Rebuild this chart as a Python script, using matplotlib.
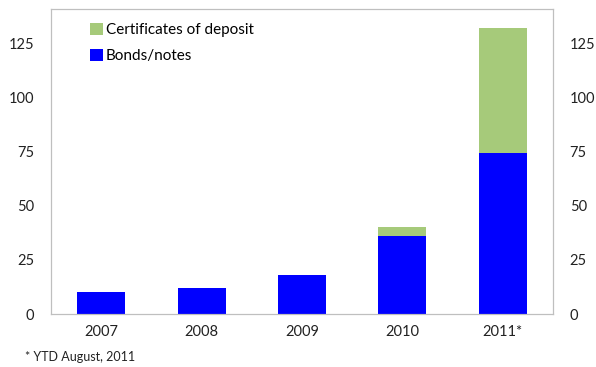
import matplotlib.pyplot as plt
import numpy as np

years = ['2007', '2008', '2009', '2010', '2011*']
bonds = [10, 12, 18, 36, 74.5]
deposits = [0, 0, 0, 4.3, 57.5]
yticks = [0, 25, 50, 75, 100, 125]

plt.rcParams['font.family'] = ['Lato', 'DejaVu Sans']

fig = plt.figure(figsize=(5.96, 3.67), dpi=100)
ax = fig.add_axes([51/596, 1 - 314/367, 502/596, 305/367])
x = np.arange(len(years))
ax.bar(x, bonds, width=0.48, color='#0000FF', label='Bonds/notes', zorder=2)
ax.bar(x, deposits, width=0.48, bottom=bonds, color='#A6CA7A', label='Certificates of deposit', zorder=2)

ax.set_xlim(-0.5, 4.5)
ax.set_ylim(0, 141)
ax.set_xticks(x)
ax.set_xticklabels(years, fontsize=10.5, color='#222222')
ax.set_yticks(yticks)
ax.tick_params(axis='y', labelsize=10.5, length=0, pad=12, labelcolor='#222222')
ax.tick_params(axis='x', length=0, pad=8)
for s in ax.spines.values():
    s.set_color('#BFBFBF')

ax2 = ax.twinx()
ax2.set_ylim(ax.get_ylim())
ax2.set_yticks(yticks)
ax2.tick_params(axis='y', labelsize=10.5, length=0, pad=12, labelcolor='#222222')
for s in ax2.spines.values():
    s.set_color('#BFBFBF')

h, l = ax.get_legend_handles_labels()
ax.legend(h[::-1], l[::-1], loc='upper left', bbox_to_anchor=(0.05, 1.0), frameon=False,
          fontsize=11, handlelength=0.85, handleheight=0.85, handletextpad=0.2, labelspacing=0.75)

fig.text(25/596, 1 - 357/367, '* YTD August, 2011', fontsize=9, color='#222222', va='center')

plt.savefig('out.png', dpi=100)
